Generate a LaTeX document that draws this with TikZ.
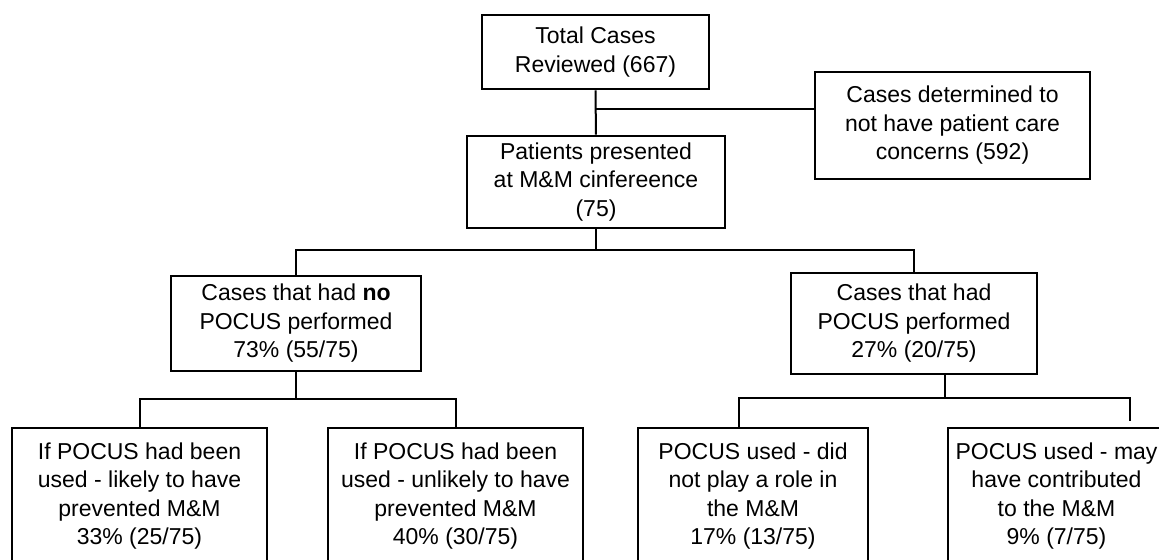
\documentclass[tikz,border=0pt]{standalone}
\usepackage{fontspec}
\setmainfont{Liberation Sans}
\usepackage{tikz}
\usetikzlibrary{calc,positioning}

\tikzset{
  box/.style={draw, line width=1.3pt, align=center, inner sep=0pt,
    font=\fontsize{11.5}{14.25}\selectfont},
  link/.style={line width=1pt}
}

\begin{document}
\begin{tikzpicture}[x=0.5pt, y=-0.5pt]
\path[use as bounding box, clip] (0,0) rectangle (1159,560);

%Top of the chart
\node[box, minimum width=113.5pt, minimum height=37pt] (total) at (595.5,52) {Total Cases\\Reviewed (667)};
\node[box, minimum width=129pt, minimum height=46pt] (patients) at (596,182) {Patients presented\\at M\&M cinfereence\\(75)};
\node[box, minimum width=137.5pt, minimum height=53.5pt] (excluded) at (952.5,125.5) {Cases determined to\\not have patient care\\concerns (592)};

%POCUS or not
\node[box, minimum width=125pt, minimum height=47.5pt] (nopocus) at (296,323.5) {Cases that had \textbf{no}\\POCUS performed\\73\% (55/75)};
\node[box, minimum width=123pt, minimum height=50.5pt] (pocus) at (914,323.5) {Cases that had\\POCUS performed\\27\% (20/75)};

%Outcomes
\node[box, minimum width=127.5pt, minimum height=68pt] (likely) at (139.5,496) {If POCUS had been\\used - likely to have\\prevented M\&M\\33\% (25/75)};
\node[box, minimum width=127.5pt, minimum height=68pt] (unlikely) at (455.5,496) {If POCUS had been\\used - unlikely to have\\prevented M\&M\\40\% (30/75)};
\node[box, minimum width=115pt, minimum height=68pt] (norole) at (753,496) {POCUS used - did\\not play a role in\\the M\&M\\17\% (13/75)};
\node[box, minimum width=108.5pt, minimum height=68pt] (mayrole) at (1056.5,496) {POCUS used - may\\have contributed\\to the M\&M\\9\% (7/75)};

%Connectors
\coordinate (split) at (596,109);
\coordinate (bus1) at (596,250);
\coordinate (bus2) at (296,399);
\coordinate (bus3) at (945,398);
\coordinate (drop3) at (739,398);
\coordinate (drop4) at (1130,421);

\draw[link] (total) -- (patients);
\draw[link] (split) -- (split -| excluded.west);
\draw[link] (patients) -- (bus1);
\draw[link] (nopocus.north) |- (bus1) -| (pocus.north);
\draw[link] (nopocus) -- (bus2);
\draw[link] (likely.north) |- (bus2) -| (unlikely.north);
\draw[link] (bus3 |- pocus.south) -- (bus3);
\draw[link] (drop3 |- norole.north) -- (drop3) -- (drop3 -| drop4) -- (drop4);

\end{tikzpicture}
\end{document}
